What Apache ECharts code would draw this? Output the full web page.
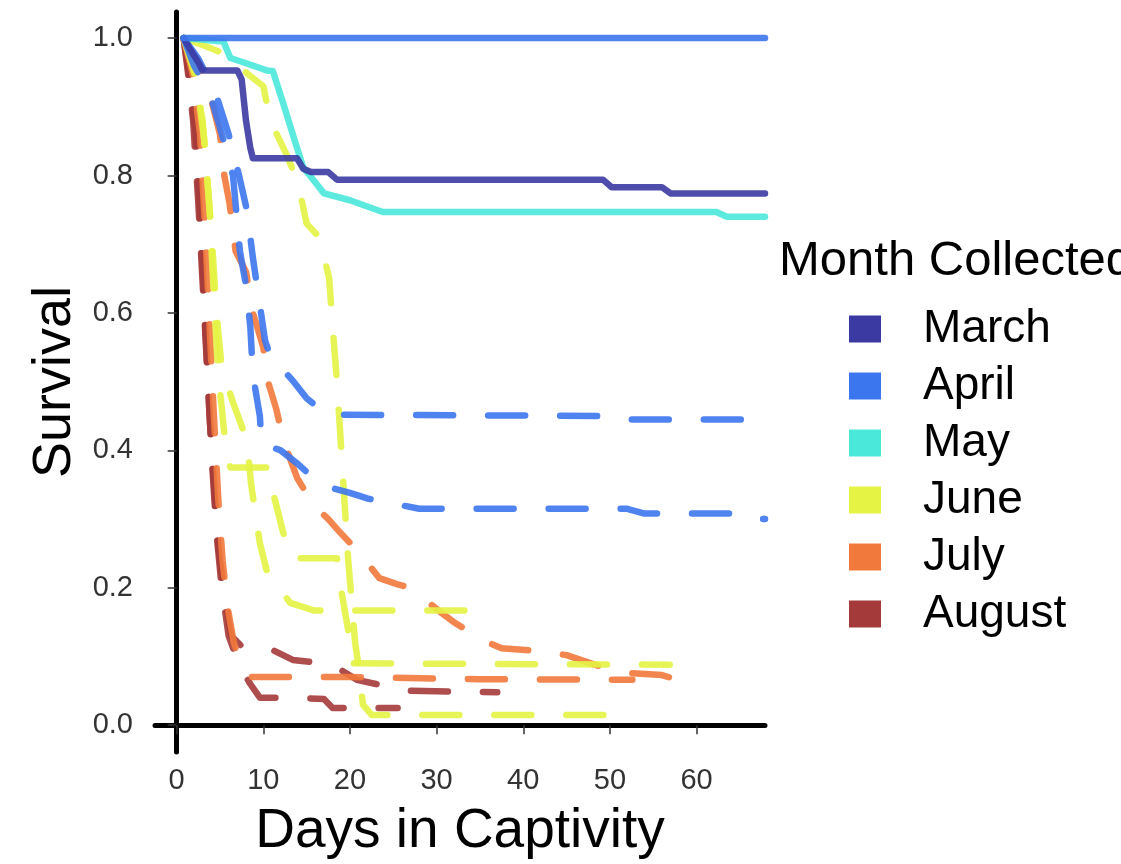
<!DOCTYPE html>
<html>
<head>
<meta charset="utf-8">
<script src="https://cdn.jsdelivr.net/npm/echarts@6/dist/echarts.min.js"></script>
<style>
  html, body { margin: 0; padding: 0; background: #ffffff; }
  #chart { width: 1121px; height: 864px; }
</style>
</head>
<body>
<div id="chart"></div>
<script>
// Kaplan–Meier survival of animals kept in captivity, grouped by month of collection.
const months = ['March', 'April', 'May', 'June', 'July', 'August'];
const monthColors = ['#3b3aa2', '#3c76ee', '#4ae8da', '#e4f344', '#f2793c', '#a53a3a'];

const xTicks = [0, 10, 20, 30, 40, 50, 60];
const yTicks = [0, 0.2, 0.4, 0.6, 0.8, 1.0];

// Survival curves: [day, survival]
const marchSolid = [[0.8,1.0],[1.5,0.985],[2.5,0.965],[3,0.953],[7,0.953],[7.5,0.94],[8,0.88],[8.5,0.84],[8.8,0.825],[13.9,0.825],[14.6,0.81],[15.5,0.805],[17.5,0.805],[18.5,0.794],[49.2,0.794],[50.2,0.783],[56,0.783],[57,0.774],[67.9,0.774]];
const aprilSolid = [[0.8,1.0],[67.9,1.0]];
const maySolid = [[0.8,1.0],[5.4,0.995],[6.2,0.971],[8.1,0.963],[10.4,0.953],[11.1,0.952],[12.3,0.905],[13.5,0.856],[14.6,0.812],[15.8,0.793],[17,0.774],[20,0.764],[22,0.755],[23.8,0.747],[62.3,0.747],[63.5,0.74],[67.9,0.74]];

const aprilDashA = [[0.8,1.0],[2.5,0.97],[4.5,0.92],[6,0.86],[7.2,0.80],[8.1,0.75],[8.8,0.68],[9.5,0.62],[10.2,0.56],[11,0.53],[12.3,0.517],[13.5,0.50],[15,0.476],[16.5,0.46],[18,0.452],[50,0.45],[52,0.445],[67.9,0.445]];
const aprilDashB = [[0.8,1.0],[2,0.96],[3.8,0.92],[5,0.87],[6.5,0.80],[7.3,0.69],[8,0.64],[8.5,0.58],[8.8,0.51],[9.6,0.45],[9.8,0.41],[12,0.40],[14,0.38],[16,0.357],[18,0.345],[20,0.338],[22,0.33],[24,0.325],[28,0.315],[52,0.315],[54,0.308],[64,0.308],[66,0.30],[67.9,0.30]];

const juneDashA = [[0.8,1.0],[3,0.99],[5,0.98],[8,0.95],[10,0.93],[10.8,0.88],[12.7,0.83],[14,0.79],[15,0.73],[16.5,0.71],[17.6,0.65],[18,0.58],[18.5,0.50],[19,0.40],[19.5,0.30],[19.8,0.24],[20.2,0.18],[20.6,0.12],[21,0.085],[21.5,0.03],[22.5,0.015],[52.9,0.015]];
const juneDashB = [[0.8,1.0],[2,0.95],[3,0.88],[3.8,0.75],[4.3,0.62],[4.8,0.51],[5.3,0.45],[5.7,0.40],[6.2,0.375],[10.8,0.375],[11.1,0.34],[12.3,0.28],[13.2,0.243],[18.5,0.243],[19,0.196],[19.8,0.138],[20.3,0.09],[56.9,0.088]];
const juneDashC = [[0.8,1.0],[2.2,0.95],[3.2,0.85],[4,0.72],[4.6,0.60],[5.2,0.52],[6.5,0.47],[8.1,0.415],[8.6,0.35],[9.6,0.265],[10.4,0.225],[13.1,0.178],[15.8,0.167],[36,0.167],[36.5,0.157]];

const julyDashA = [[0.8,1.0],[2.5,0.96],[3.8,0.92],[5,0.86],[5.5,0.80],[6.1,0.76],[6.8,0.69],[8,0.66],[8.8,0.60],[10,0.55],[10.3,0.51],[11.5,0.46],[12.3,0.415],[13.9,0.36],[15.8,0.32],[17.5,0.30],[18.9,0.28],[20.8,0.255],[23.4,0.214],[25.5,0.205],[27,0.20],[30.4,0.165],[32,0.15],[33.5,0.138],[36,0.12],[37.5,0.112],[40.8,0.109],[45,0.102],[48.5,0.087],[52.3,0.076],[56,0.073],[58,0.065],[60.4,0.058]];
const julyDashB = [[0.8,1.0],[1.8,0.95],[2.7,0.86],[3.3,0.72],[3.8,0.58],[4.3,0.45],[4.8,0.33],[5.3,0.24],[5.9,0.17],[6.6,0.12],[7.5,0.085],[8.5,0.07],[20,0.07],[35,0.067],[52.6,0.066]];

const augustDashA = [[0.8,1.0],[1.5,0.94],[2.2,0.86],[2.8,0.72],[3.3,0.58],[3.8,0.45],[4.3,0.35],[4.8,0.26],[5.5,0.19],[6.3,0.13],[7.5,0.115],[9,0.113],[11,0.11],[13.4,0.095],[17,0.09],[19,0.08],[20.8,0.066],[23,0.06],[25,0.055],[27,0.05],[37,0.048]];
const augustDashB = [[0.8,1.0],[1.3,0.95],[1.9,0.88],[2.5,0.76],[3.1,0.62],[3.6,0.50],[4.1,0.38],[4.6,0.28],[5.2,0.20],[6,0.13],[7.3,0.085],[8.5,0.06],[9.6,0.04],[13.4,0.04],[17,0.038],[18,0.025],[25.5,0.025]];

// Which month each curve belongs to, and whether it is drawn dashed
const curves = [
  ['August', augustDashA, true], ['August', augustDashB, true],
  ['July', julyDashA, true], ['July', julyDashB, true],
  ['June', juneDashA, true], ['June', juneDashB, true], ['June', juneDashC, true],
  ['April', aprilDashA, true], ['April', aprilDashB, true],
  ['May', maySolid, false], ['March', marchSolid, false], ['April', aprilSolid, false]
];

const colorOf = name => monthColors[months.indexOf(name)];
const FONT = '"Liberation Sans", Arial, Helvetica, sans-serif';

const series = curves.map(([name, data, dashed]) => ({
  type: 'line',
  name: name,
  data: data,
  symbol: 'none',
  showSymbol: false,
  silent: true,
  clip: true,
  z: dashed ? 2 : 3,
  itemStyle: { color: colorOf(name) },
  lineStyle: {
    color: colorOf(name),
    width: 6.5,
    opacity: 0.9,
    type: dashed ? [37, 35] : 'solid',
    cap: 'round',
    join: 'round'
  },
  emphasis: { disabled: true }
}));

const chart = echarts.init(document.getElementById('chart'), null, { renderer: 'canvas' });
chart.setOption({
  animation: false,
  backgroundColor: '#ffffff',
  title: {
    text: 'Month Collected',
    left: 774,
    top: 232,
    textStyle: { fontFamily: FONT, fontSize: 49, fontWeight: 'normal', color: '#000' }
  },
  legend: {
    orient: 'vertical',
    left: 844,
    top: 299,
    itemWidth: 32,
    itemHeight: 27,
    itemGap: 7,
    icon: 'rect',
    selectedMode: false,
    data: months.map((m, i) => ({ name: m, icon: 'rect', itemStyle: { color: monthColors[i], borderWidth: 0 } })),
    textStyle: { fontFamily: FONT, fontSize: 46, color: '#000', lineHeight: 50, padding: [0, 0, 0, 37] }
  },
  grid: { left: 155, right: 356, top: 12, bottom: 112, containLabel: false },
  xAxis: {
    type: 'value',
    min: -2.5,
    max: 67.9,
    name: 'Days in Captivity',
    nameLocation: 'middle',
    nameGap: 52,
    nameTextStyle: { fontFamily: FONT, fontSize: 55, color: '#000' },
    axisLine: { show: true, lineStyle: { color: '#000', width: 5 } },
    axisTick: { show: true, customValues: xTicks, length: 9, lineStyle: { color: '#333', width: 1.5 } },
    axisLabel: { customValues: xTicks, fontFamily: FONT, fontSize: 29, color: '#333', margin: 14 },
    splitLine: { show: false }
  },
  yAxis: {
    type: 'value',
    min: -0.039,
    max: 1.038,
    name: 'Survival',
    nameLocation: 'middle',
    nameRotate: 90,
    nameGap: 66,
    nameTextStyle: { fontFamily: FONT, fontSize: 54, color: '#000' },
    axisLine: { show: true, lineStyle: { color: '#000', width: 5 } },
    axisTick: { show: true, customValues: yTicks, length: 9, lineStyle: { color: '#333', width: 1.5 } },
    axisLabel: { customValues: yTicks, fontFamily: FONT, fontSize: 29, color: '#333', margin: 22,
                 formatter: v => v.toFixed(1) },
    splitLine: { show: false }
  },
  series: series
});
</script>
</body>
</html>
